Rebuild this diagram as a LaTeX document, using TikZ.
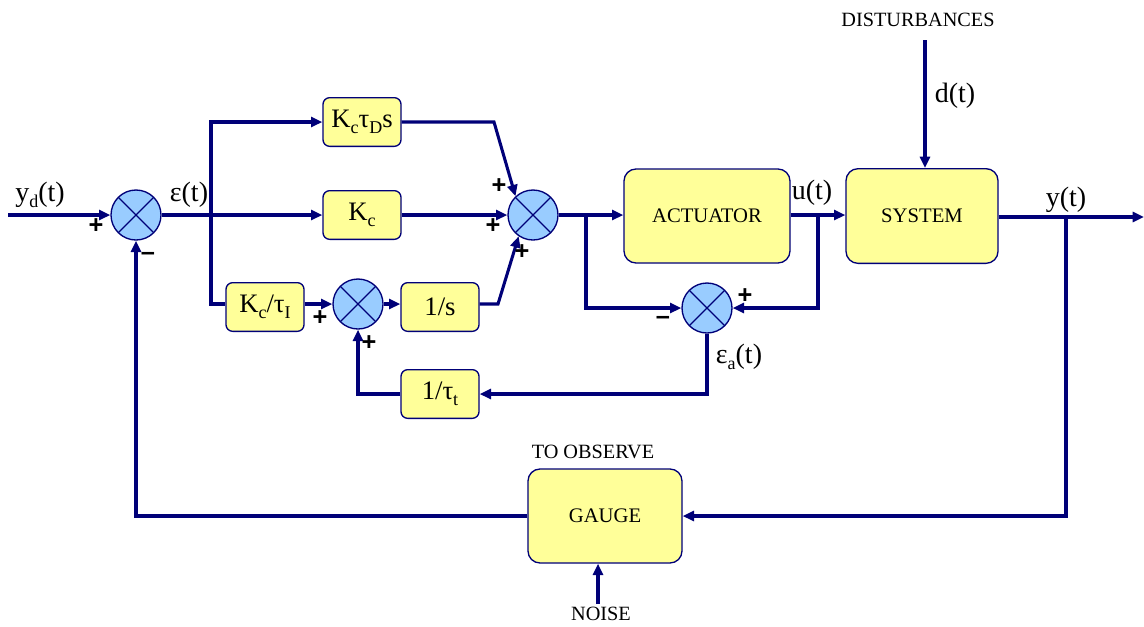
\documentclass[tikz,border=0pt]{standalone}
\usepackage{fontspec}
\setmainfont{Liberation Serif}
\newfontfamily\signfont{Liberation Sans}
\usetikzlibrary{arrows.meta}
\definecolor{wire}{RGB}{0,0,120}
\definecolor{boxfill}{RGB}{255,255,153}
\definecolor{sumfill}{RGB}{153,204,255}
\newcommand\lo[1]{\raisebox{-0.45ex}{\fontsize{13.5}{13.5}\selectfont #1}}
\tikzset{
  arr/.style={draw=wire, line width=2.3pt, -{Triangle[length=8.5pt,width=7.5pt]}},
  wireln/.style={draw=wire, line width=2.3pt},
  blk/.style={draw=wire, line width=1pt, fill=boxfill, rounded corners=5pt,
    minimum width=58.5pt, minimum height=36.5pt, inner sep=0pt,
    font=\fontsize{20}{22}\selectfont},
  bigblk/.style={draw=wire, line width=1pt, fill=boxfill, rounded corners=9pt,
    minimum width=118pt, minimum height=70.5pt, inner sep=0pt,
    font=\fontsize{15.5}{17}\selectfont},
  sumj/.style={circle, draw=wire, line width=1pt, fill=sumfill,
    minimum size=37.5pt, inner sep=0pt,
    path picture={\draw[wire, line width=0.9pt]
      (path picture bounding box.north west) -- (path picture bounding box.south east)
      (path picture bounding box.north east) -- (path picture bounding box.south west);}},
  sig/.style={font=\fontsize{21}{23}\selectfont, inner sep=0pt},
  captext/.style={font=\fontsize{15.2}{17}\selectfont, inner sep=0pt},
  pm/.style={font=\signfont\bfseries\fontsize{19}{19}\selectfont, inner sep=0pt}
}
\begin{document}
\begin{tikzpicture}[x=0.75pt, y=-0.75pt]
\useasboundingbox (0,0) rectangle (1144,626);

% summing junctions
\node[sumj] (s1) at (136,215) {};
\node[sumj] (s2) at (533,215) {};
\node[sumj] (s3) at (358,304) {};
\node[sumj] (s4) at (707,308) {};

% controller blocks
\node[blk] (kd) at (362,122) {K\lo{c}τ\lo{D}s};
\node[blk] (kc) at (362,215) {K\lo{c}};
\node[blk] (ki) at (265,307) {K\lo{c}/τ\lo{I}};
\node[blk] (is) at (440,307) {1/s};
\node[blk] (tt) at (440,394) {1/τ\lo{t}};

% plant side blocks
\node[bigblk, minimum width=124.5pt] (act) at (707,216) {ACTUATOR};
\node[bigblk, minimum width=114pt, minimum height=71pt] (sys) at (922,216) {SYSTEM};
\node[bigblk, minimum width=115.5pt] (gau) at (605,516) {GAUGE};

% free ends and branch points
\coordinate (yin) at (8,215);
\coordinate (b1) at (211,215);
\coordinate (b2) at (586,215);
\coordinate (b3) at (818,215);
\coordinate (b4) at (1066,217);
\coordinate (yout) at (1144,217);
\coordinate (dtop) at (925,40);
\coordinate (nz) at (598,604);
\coordinate (kdc) at (494,122);
\coordinate (isc) at (498,304);

% forward path
\draw[arr] (yin) -- (s1.west);
\draw[arr] (s1.east) -- (kc.west);
\draw[arr] (b1) |- (kd.west);
\draw[wireln] (b1) |- (ki.west |- s3.west);
\draw[arr] (ki.east |- s3.west) -- (s3.west);
\draw[arr] (s3.east) -- (s3.east -| is.west);
\draw[arr] (is.east |- isc) -- (isc) -- (s2.236);
\draw[arr] (kd.east) -- (kdc) -- (s2.133);
\draw[arr] (kc.east) -- (s2.west);
\draw[arr] (s2.east) -- (s2.east -| act.west);
\draw[arr] (act.east |- b3) -- (b3 -| sys.west);
\draw[arr] (sys.east |- b4) -- (yout);

% anti-windup loop
\draw[arr] (b2) |- (s4.west);
\draw[arr] (b3) |- (s4.east);
\draw[arr] (s4.south) |- (tt.east);
\draw[arr] (tt.west) -| (s3.south);

% disturbance, measurement and noise
\draw[arr] (dtop) -- (dtop |- sys.north);
\draw[arr] (b4) |- (gau.east);
\draw[arr] (gau.west) -| (s1.south);
\draw[arr] (nz) -- (nz |- gau.south);

% signal names
\node[sig] at (40,195) {y\lo{d}(t)};
\node[sig] at (189,195) {ε(t)};
\node[sig] at (812,193) {u(t)};
\node[sig] at (1066,200) {y(t)};
\node[sig] at (955,96) {d(t)};
\node[sig] at (739,357) {ε\lo{a}(t)};
\node[captext] at (918,20) {DISTURBANCES};
\node[captext] at (593,452) {TO OBSERVE};
\node[captext] at (601,614) {NOISE};

% signs at the junctions
\node[pm] at (96,226) {+};
\node[pm] at (148,256) {–};
\node[pm] at (499,186) {+};
\node[pm] at (493,226) {+};
\node[pm] at (522,252) {+};
\node[pm] at (320,318) {+};
\node[pm] at (369,343) {+};
\node[pm] at (663,320) {–};
\node[pm] at (745,296) {+};
\end{tikzpicture}
\end{document}
